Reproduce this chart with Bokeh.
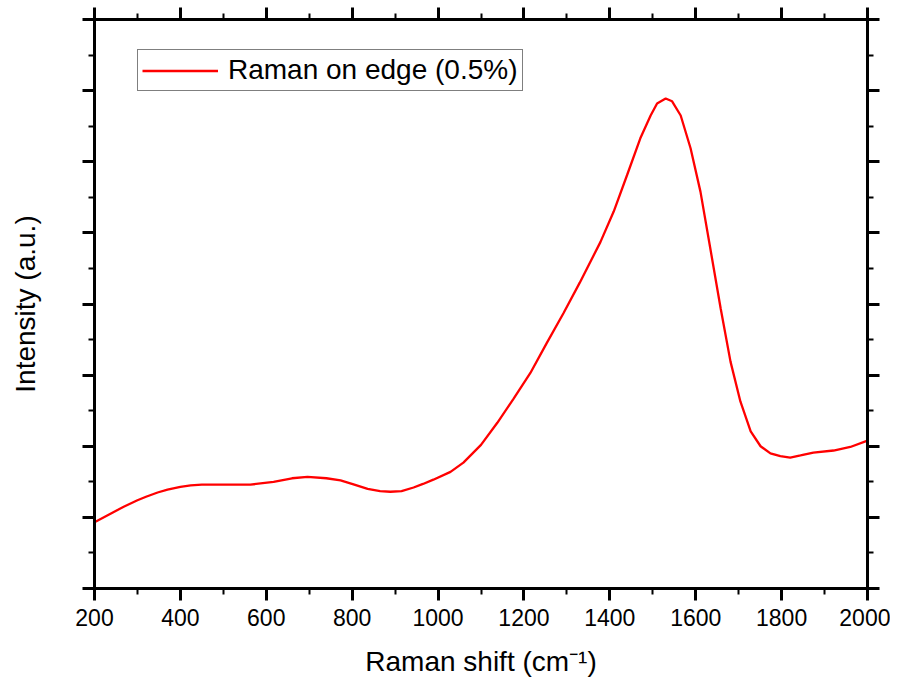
from bokeh.plotting import figure
from bokeh.models import LinearAxis, FixedTicker, Range1d, Legend, LegendItem, CustomJSTickFormatter
from bokeh.embed import file_html
from bokeh.resources import INLINE

shift = [200, 234, 268, 300, 320, 347, 370, 400, 424, 450, 500, 563, 617, 660, 696, 740, 773, 805,
         836, 865, 889, 915, 943, 965, 989, 1029, 1059, 1100, 1138, 1176, 1215, 1253, 1292, 1330,
         1378, 1409, 1440, 1471, 1495, 1510, 1530, 1545, 1565, 1588, 1611, 1634, 1658, 1681,
         1704, 1728, 1751, 1774, 1797, 1820, 1844, 1874, 1921, 1960, 2000]
intensity = [0.93, 1.04, 1.15, 1.24, 1.29, 1.35, 1.39, 1.43, 1.45, 1.46, 1.46, 1.46, 1.50, 1.55,
             1.57, 1.55, 1.52, 1.46, 1.40, 1.37, 1.36, 1.37, 1.42, 1.47, 1.53, 1.64, 1.77, 2.02,
             2.33, 2.67, 3.03, 3.45, 3.87, 4.30, 4.87, 5.30, 5.81, 6.33, 6.65, 6.82, 6.89, 6.85,
             6.65, 6.19, 5.58, 4.78, 3.94, 3.19, 2.63, 2.21, 2.00, 1.90, 1.86, 1.84, 1.87, 1.91,
             1.94, 1.99, 2.08]

x_major = list(range(200, 2001, 200))
x_minor = list(range(200, 2001, 100))
y_major = list(range(0, 9))
y_minor = [i * 0.5 for i in range(0, 17)]

FONT = "Liberation Sans"

p = figure(width=890, height=679, output_backend="svg", toolbar_location=None,
           x_range=Range1d(200, 2000), y_range=Range1d(0, 8),
           x_axis_location=None, y_axis_location=None,
           min_border_left=94, min_border_right=23, min_border_top=19, min_border_bottom=90)
p.outline_line_color = None
p.grid.visible = False
p.background_fill_color = "white"
p.border_fill_color = "white"

def style(ax, labels):
    ax.axis_line_width = 3
    ax.axis_line_color = "black"
    ax.major_tick_line_width = 3
    ax.minor_tick_line_width = 2
    ax.major_tick_out = 12
    ax.major_tick_in = 0
    ax.minor_tick_out = 6
    ax.minor_tick_in = 0
    ax.major_label_text_font = FONT
    ax.major_label_text_color = "black"
    if labels:
        ax.major_label_text_font_size = "23px"
        ax.major_label_standoff = 8
    else:
        ax.formatter = CustomJSTickFormatter(code="return '';")
        ax.major_label_standoff = 0
    ax.axis_label_text_font = FONT
    ax.axis_label_text_font_style = "normal"
    ax.axis_label_text_font_size = "28px"
    ax.axis_label_text_color = "black"

xt = FixedTicker(ticks=x_major, minor_ticks=x_minor)
yt = FixedTicker(ticks=y_major, minor_ticks=y_minor)

bottom = LinearAxis(ticker=xt, axis_label="Raman shift (cm\u207b\u00b9)")
style(bottom, True)
bottom.axis_label_standoff = 17
top = LinearAxis(ticker=xt)
style(top, False)
left = LinearAxis(ticker=yt, axis_label="Intensity (a.u.)")
style(left, False)
left.axis_label_standoff = 42
right = LinearAxis(ticker=yt)
style(right, False)

p.add_layout(bottom, "below")
p.add_layout(top, "above")
p.add_layout(left, "left")
p.add_layout(right, "right")

r = p.line(shift, intensity, line_color="#ff0000", line_width=2.3)

legend = Legend(items=[LegendItem(label="Raman on edge (0.5%)", renderers=[r])],
                location=(43, 497), orientation="vertical")
legend.label_text_font = FONT
legend.label_text_font_size = "28px"
legend.label_text_color = "black"
legend.border_line_color = "black"
legend.border_line_width = 1
legend.background_fill_alpha = 1
legend.padding = 4
legend.margin = 0
legend.glyph_width = 76
legend.glyph_height = 27
legend.label_height = 27
legend.label_standoff = 10
legend.spacing = 0
p.add_layout(legend, "center")

open("out.html", "w").write(file_html(p, INLINE))
